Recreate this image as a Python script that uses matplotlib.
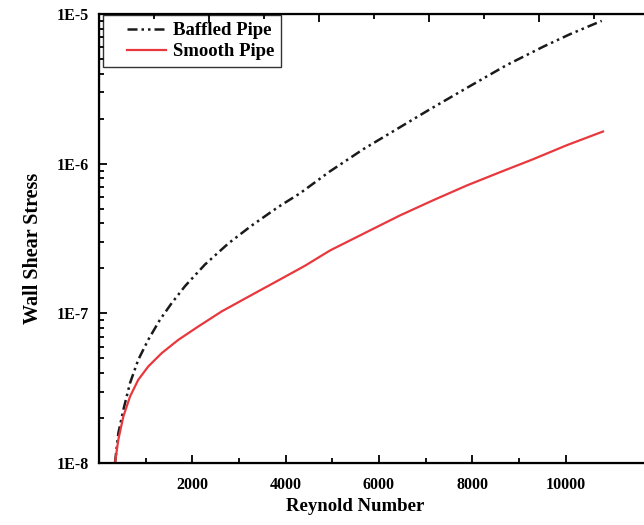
import numpy as np
import matplotlib
matplotlib.use("Agg")
import matplotlib.pyplot as plt
from matplotlib.legend_handler import HandlerLine2D
from matplotlib.ticker import FixedLocator, FuncFormatter, LogLocator, NullFormatter, MultipleLocator

plt.rcParams['font.family'] = ['Liberation Serif', 'DejaVu Serif']
plt.rcParams['font.weight'] = 'bold'

# data (Reynolds number vs wall shear stress)
re_baffled = [343, 414, 521, 665, 842, 1057, 1308, 1558, 1844, 2272, 2772,
              3273, 3844, 4309, 4952, 5666, 6382, 7095, 7953, 8740, 9524,
              10097, 10776]
tau_baffled = [1.00e-8, 1.58e-8, 2.26e-8, 3.42e-8, 4.90e-8, 6.67e-8, 9.08e-8,
               1.17e-7, 1.52e-7, 2.12e-7, 2.93e-7, 3.86e-7, 5.14e-7, 6.34e-7,
               8.89e-7, 1.25e-6, 1.70e-6, 2.31e-6, 3.30e-6, 4.56e-6, 6.05e-6,
               7.33e-6, 9.00e-6]

re_smooth = [343, 414, 521, 665, 842, 1057, 1344, 1700, 2129, 2630, 3200,
             3844, 4416, 4952, 5745, 6452, 7160, 7889, 8596, 9303, 10032, 10804]
tau_smooth = [1.00e-8, 1.43e-8, 2.04e-8, 2.78e-8, 3.60e-8, 4.42e-8, 5.42e-8,
              6.65e-8, 8.17e-8, 1.03e-7, 1.29e-7, 1.66e-7, 2.08e-7, 2.63e-7,
              3.50e-7, 4.51e-7, 5.69e-7, 7.16e-7, 8.77e-7, 1.07e-6, 1.33e-6,
              1.64e-6]

x_major = [2000, 4000, 6000, 8000, 10000]
x_minor = [1000, 3000, 5000, 7000, 9000]


class LeadLine(HandlerLine2D):
    # legend line that leaves a little blank space before it, like Origin does
    def get_xdata(self, legend, xdescent, ydescent, width, height, fontsize):
        xdata, xmark = super().get_xdata(legend, xdescent, ydescent, width, height, fontsize)
        xdata = np.asarray(xdata, dtype=float)
        xdata[0] = xdata[0] + 0.3 * width
        return xdata, xmark


fig = plt.figure(figsize=(6.44, 5.25), dpi=100)
ax = fig.add_axes([99 / 644, 1 - 463 / 525, (664 - 99) / 644, (463 - 14) / 525])

ax.plot(re_baffled, tau_baffled, color='#1a1a1a', lw=1.8,
        linestyle=(0, (4, 1.6, 1, 1.6, 1, 1.6)), label='Baffled Pipe')
ax.plot(re_smooth, tau_smooth, color='#e8383d', lw=1.6, label='Smooth Pipe')

ax.set_yscale('log')
ax.set_ylim(1e-8, 1e-5)
ax.set_xlim(0, (664 - 99) / 46.65 * 1000)

ax.xaxis.set_major_locator(FixedLocator(x_major))
ax.xaxis.set_minor_locator(FixedLocator(x_minor))
ax.yaxis.set_major_locator(LogLocator(base=10, numticks=10))
ax.yaxis.set_minor_locator(LogLocator(base=10, subs=np.arange(2, 10), numticks=20))
ax.yaxis.set_minor_formatter(NullFormatter())
ax.yaxis.set_major_formatter(FuncFormatter(lambda v, p: f"1E{int(round(np.log10(v)))}"))

ax.tick_params(which='both', direction='in', width=1.3, labelsize=11.5)
ax.tick_params(which='major', length=6)
ax.tick_params(which='minor', length=3.5)
ax.tick_params(axis='x', pad=10)
ax.tick_params(axis='y', pad=7)
ax.tick_params(top=False, right=False)

for s in ax.spines.values():
    s.set_linewidth(1.6)

# mirrored ticks on the top edge
top = ax.twiny()
top.set_xlim(0, (664 - 99) / 55 * 1000)
top.xaxis.set_major_locator(MultipleLocator(2000))
top.xaxis.set_minor_locator(MultipleLocator(1000))
top.tick_params(which='both', direction='in', width=1.3, labeltop=False)
top.tick_params(which='major', length=6)
top.tick_params(which='minor', length=3.5)

ax.set_xlabel('Reynold Number', fontsize=13.5, fontweight='bold')
ax.xaxis.set_label_coords((355 - 99) / 565, -35 / 449)
ax.set_ylabel('Wall Shear Stress', fontsize=14.5, fontweight='bold')
ax.yaxis.set_label_coords((43 - 99) / 565, (463 - 248) / 449)

leg = ax.legend(loc='upper left', bbox_to_anchor=(4 / 565, 1 - 1 / 449),
                fontsize=13.5, frameon=True, fancybox=False,
                handlelength=3.0, borderaxespad=0, borderpad=0.38,
                labelspacing=0.2, handletextpad=0.35,
                handler_map={plt.Line2D: LeadLine()})
leg.get_frame().set_edgecolor('black')
leg.get_frame().set_linewidth(1.0)
for t in leg.get_texts():
    t.set_fontweight('bold')

fig.savefig('out.png', dpi=100)
